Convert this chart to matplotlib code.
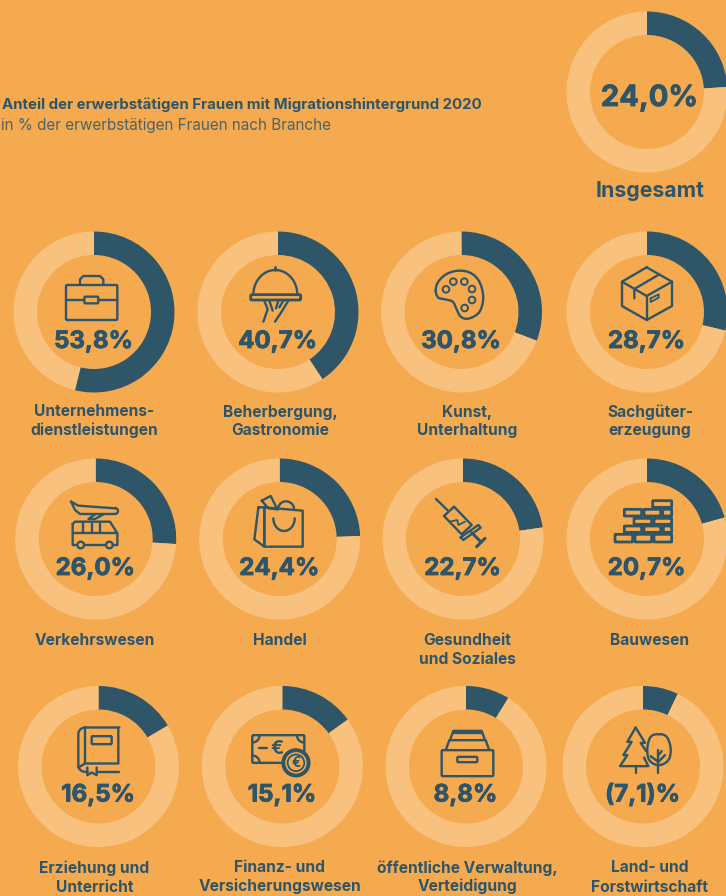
import numpy as np
from matplotlib import patheffects, pyplot as plt
from matplotlib.patches import Circle, FancyBboxPatch

WIDTH, HEIGHT = 726, 896

BG = '#F6AA50'
LIGHT = '#F8C27E'
DARK = '#2E5568'
SUB = '#4A6468'
FONT = 'Inter'

TITLE = 'Anteil der erwerbstätigen Frauen mit Migrationshintergrund 2020'
SUBTITLE = 'in % der erwerbstätigen Frauen nach Branche'

TOTAL_NAME = 'Insgesamt'
TOTAL_SHARE = 24.0
TOTAL_LABEL = '24,0%'

BRANCHES = [
    'Unternehmens-\ndienstleistungen', 'Beherbergung,\nGastronomie', 'Kunst,\nUnterhaltung', 'Sachgüter-\nerzeugung',
    'Verkehrswesen', 'Handel', 'Gesundheit\nund Soziales', 'Bauwesen',
    'Erziehung und\nUnterricht', 'Finanz- und\nVersicherungswesen', 'öffentliche Verwaltung,\nVerteidigung',
    'Land- und\nForstwirtschaft',
]
SHARES = [53.8, 40.7, 30.8, 28.7, 26.0, 24.4, 22.7, 20.7, 16.5, 15.1, 8.8, 7.1]
SHARE_LABELS = ['53,8%', '40,7%', '30,8%', '28,7%', '26,0%', '24,4%', '22,7%', '20,7%', '16,5%', '15,1%', '8,8%',
                '(7,1)%']

# layout in reference pixels
CENTER_X = [[94, 278, 461.5, 647], [95.7, 279.7, 463, 647], [98.5, 282.3, 466, 643]]
CENTER_Y = [312, 539, 766.5]
VALUE_BASE = [348, 575, 801.5]
LABEL_X = [94.5, 280, 467, 650]
LABEL_BASE = [[416.5, 435], [645, 663.5], [872.5, 891.5]]
OUTER = 80.5
INNER = 57
ICON_LW = 1.7


def smooth(pts, n=12):
    # closed catmull-rom through the points
    pts = np.array(pts, float)
    out = []
    for i in range(len(pts)):
        p0, p1, p2, p3 = pts[i - 1], pts[i], pts[(i + 1) % len(pts)], pts[(i + 2) % len(pts)]
        for t in np.linspace(0, 1, n, endpoint=False):
            out.append(0.5 * (2 * p1 + (p2 - p0) * t + (2 * p0 - 5 * p1 + 4 * p2 - p3) * t ** 2
                              + (3 * p1 - p0 - 3 * p2 + p3) * t ** 3))
    return out


def arc(cx, cy, rx, ry, a0, a1, n=30):
    a = np.radians(np.linspace(a0, a1, n))
    return list(zip(cx + rx * np.cos(a), cy + ry * np.sin(a)))


class Pen:
    # icon outlines are noted in 3x units around a local centre
    def __init__(self, ax, cx, cy, zx, zy):
        self.ax, self.cx, self.cy, self.zx, self.zy = ax, cx, cy, zx, zy

    def xy(self, x, y):
        return self.cx + (x - self.zx) / 3, self.cy + (y - self.zy) / 3

    def line(self, pts, closed=False, lw=ICON_LW):
        pts = [self.xy(*p) for p in pts]
        if closed:
            pts.append(pts[0])
        xs, ys = zip(*pts)
        self.ax.plot(xs, ys, color=DARK, lw=lw, solid_capstyle='round', solid_joinstyle='round', zorder=3)

    def rect(self, x0, y0, x1, y1, lw=ICON_LW, rounding=1.2):
        a, b = self.xy(x0, y0), self.xy(x1, y1)
        self.ax.add_patch(FancyBboxPatch(a, b[0] - a[0], b[1] - a[1], boxstyle=f'round,pad=0,rounding_size={rounding}',
                                         fc='none', ec=DARK, lw=lw, zorder=3))

    def circle(self, x, y, r, lw=ICON_LW, fill='none'):
        self.ax.add_patch(Circle(self.xy(x, y), r / 3, fc=fill, ec=DARK, lw=lw, zorder=4))


def briefcase(p):
    p.rect(198, 195, 352, 300)
    p.line([(240, 195), (240, 178), (250, 168), (300, 168), (310, 178), (310, 195)])
    p.rect(253, 230, 295, 250)
    p.line([(198, 240), (253, 240)])
    p.line([(295, 240), (352, 240)])


def cloche(p):
    p.rect(752, 224, 902, 240, lw=2)
    p.line(arc(826, 224, 66, 74, 180, 360))
    p.line([(826, 150), (826, 142)], lw=2)
    p.line([(793, 242), (803, 268), (790, 305)])
    p.line([(808, 242), (818, 272)])
    p.line([(835, 242), (828, 265)])
    p.line([(865, 242), (845, 275), (825, 305)])
    p.line([(850, 242), (838, 262)])


def palette(p):
    p.line(smooth([(197, 212), (205, 185), (230, 162), (265, 152), (300, 158), (325, 180), (338, 215), (338, 250),
                   (325, 280), (295, 296), (272, 290), (260, 268), (248, 245), (225, 238), (205, 233)]), closed=True)
    for x, y in [(228, 208), (250, 185), (283, 185), (306, 207), (306, 240), (284, 264)]:
        p.circle(x, y, 10, lw=1.4)


def box(p):
    p.line([(830, 142), (906, 185), (906, 258), (830, 300), (756, 258), (756, 185)], closed=True)
    p.line([(756, 185), (830, 228), (906, 185)])
    p.line([(830, 228), (830, 300)])
    p.line([(868, 163), (793, 207), (793, 235)])
    p.line([(842, 235), (866, 223), (866, 233), (842, 246)], closed=True, lw=1.3)


def plane_bus(p):
    p.line([(213, 155), (235, 167), (345, 175)] + arc(345, 183, 9, 9, -90, 90, 8) + [(240, 192), (225, 180)],
           closed=True)
    p.line([(310, 193), (285, 207), (265, 207), (285, 193)])
    p.line([(218, 222), (225, 215), (330, 215), (352, 250), (352, 285), (218, 285)], closed=True)
    p.line([(218, 248), (352, 248)])
    for x in [250, 275, 300]:
        p.line([(x, 215), (x, 248)])
    p.circle(242, 285, 10, fill=BG)
    p.circle(328, 285, 10, fill=BG)


def bag(p):
    p.line([(785, 152), (812, 138), (832, 178), (805, 175)], closed=True)
    p.line(arc(858, 178, 24, 24, 180, 360))
    p.line([(775, 172), (793, 172), (793, 290), (763, 268)], closed=True)
    p.line([(793, 172), (908, 182), (908, 290), (793, 290)], closed=True)
    p.line(arc(852, 205, 32, 38, 0, 180))


def syringe(p):
    p.line([(198, 147), (232, 180)])
    p.line([(222, 198), (252, 170), (305, 225), (275, 253)], closed=True)
    p.line([(272, 262), (325, 225), (332, 233), (280, 270)], closed=True)
    p.line([(305, 248), (332, 275)], lw=2.2)
    p.line([(345, 265), (320, 290)], lw=2.2)
    p.line([(238, 215), (262, 210), (265, 225), (285, 215)], lw=1.3)


def wall(p):
    rows = [(152, 172, [(848, 905)]),
            (178, 198, [(763, 815), (822, 872), (878, 905)]),
            (205, 223, [(792, 845), (852, 905)]),
            (228, 247, [(763, 815), (822, 872), (880, 905)]),
            (253, 276, [(735, 788), (795, 845), (852, 905)])]
    for y0, y1, bricks in rows:
        for x0, x1 in bricks:
            p.rect(x0, y0, x1, y1, lw=2, rounding=0.5)


def book(p):
    p.line([(358, 142), (255, 142)] + arc(255, 162, 20, 20, 270, 180, 8) + arc(255, 255, 20, 20, 180, 90, 8)
           + [(262, 275)])
    p.line([(255, 142), (255, 250)])
    p.line([(235, 262), (255, 250), (355, 250), (355, 142)])
    p.rect(275, 168, 335, 192)
    p.line([(262, 262), (262, 285), (275, 277), (290, 285), (290, 262)])
    p.line([(290, 275), (358, 275)])


def money(p):
    p.rect(757, 165, 913, 248)
    p.line(arc(757, 165, 22, 22, 0, 90, 10))
    p.line(arc(913, 165, 22, 22, 90, 180, 10))
    p.line(arc(757, 248, 22, 22, 270, 360, 10))
    p.line([(778, 205), (800, 205)])
    x, y = p.xy(832, 205)
    p.ax.text(x, y, '€', color=DARK, fontsize=14, family=FONT, weight='bold', ha='center', va='center', zorder=3)
    p.circle(888, 248, 38, lw=2.8, fill=BG)
    p.circle(888, 248, 25, lw=1.3)
    x, y = p.xy(888, 248)
    p.ax.text(x, y, '€', color=DARK, fontsize=10, family=FONT, weight='bold', ha='center', va='center', zorder=5)


def drawer(p):
    p.line([(240, 180), (250, 152), (335, 152), (345, 180)])
    p.line([(250, 160), (335, 160)])
    p.line([(228, 208), (238, 180), (347, 180), (357, 208)])
    p.rect(215, 210, 370, 288)
    p.rect(262, 230, 322, 246)


def trees(p):
    p.line([(797, 142), (772, 185), (785, 185), (760, 225), (772, 225), (750, 258), (835, 258), (822, 232)])
    p.line([(797, 142), (825, 188), (812, 188), (828, 212)])
    p.line([(797, 258), (797, 278)])
    p.line(smooth([(866, 162), (890, 170), (902, 205), (895, 240), (866, 255), (838, 240), (832, 205), (842, 170)]),
           closed=True)
    p.line([(865, 210), (865, 278)])
    p.line([(865, 245), (842, 228)])
    p.line([(865, 245), (885, 225)])
    p.line([(865, 225), (875, 213)])


# icon, then the local centre of its outline notes
ICONS = [(briefcase, 282, 276), (cloche, 834, 276), (palette, 274.5, 276), (box, 831, 276),
         (plane_bus, 287, 267), (bag, 839, 267), (syringe, 279, 267), (wall, 831, 267),
         (book, 295.5, 259), (money, 847, 259), (drawer, 288, 259), (trees, 819, 259)]


def draw_donut(fig, cx, cy, share):
    ax = fig.add_axes([(cx - OUTER) / WIDTH, 1 - (cy + OUTER) / HEIGHT, 2 * OUTER / WIDTH, 2 * OUTER / HEIGHT])
    ax.pie([share, 100 - share], colors=[DARK, LIGHT], startangle=90, counterclock=False, radius=1,
           wedgeprops={'width': 1 - INNER / OUTER, 'linewidth': 0})
    ax.set_xlim(-1, 1)
    ax.set_ylim(-1, 1)
    ax.patch.set_alpha(0)


fig = plt.figure(figsize=(WIDTH / 100, HEIGHT / 100), dpi=100, facecolor=BG)

draw_donut(fig, 647, 92, TOTAL_SHARE)
for i, share in enumerate(SHARES):
    draw_donut(fig, CENTER_X[i // 4][i % 4], CENTER_Y[i // 4], share)

# everything else is placed on one overlay in pixel units
over = fig.add_axes([0, 0, 1, 1])
over.set_xlim(0, WIDTH)
over.set_ylim(HEIGHT, 0)
over.axis('off')
over.patch.set_alpha(0)

heavy = [patheffects.withStroke(linewidth=0.6, foreground=DARK)]

over.text(2, 109, TITLE, color=DARK, fontsize=10.8, family=FONT, weight='bold', va='baseline')
over.text(1, 130, SUBTITLE, color=SUB, fontsize=11, family=FONT, va='baseline')
over.text(649.5, 106, TOTAL_LABEL, color=DARK, fontsize=21, family=FONT, weight='bold', ha='center', va='baseline',
          path_effects=heavy)
over.text(650.5, 197, TOTAL_NAME, color=DARK, fontsize=15.3, family=FONT, weight='bold', ha='center',
          va='baseline')

for i, (name, label) in enumerate(zip(BRANCHES, SHARE_LABELS)):
    row, col = i // 4, i % 4
    cx, cy = CENTER_X[row][col], CENTER_Y[row]
    over.text(cx - 0.5, VALUE_BASE[row], label, color=DARK, fontsize=17.3, family=FONT, weight='bold', ha='center',
              va='baseline', path_effects=heavy)
    for line, base in zip(name.split('\n'), LABEL_BASE[row]):
        over.text(LABEL_X[col], base, line, color=DARK, fontsize=11.2, family=FONT, weight='bold', ha='center',
                  va='baseline')
    icon, zx, zy = ICONS[i]
    icon(Pen(over, cx, cy, zx, zy))

over.set_xlim(0, WIDTH)
over.set_ylim(HEIGHT, 0)
fig.savefig('out.png', dpi=100, facecolor=BG)
